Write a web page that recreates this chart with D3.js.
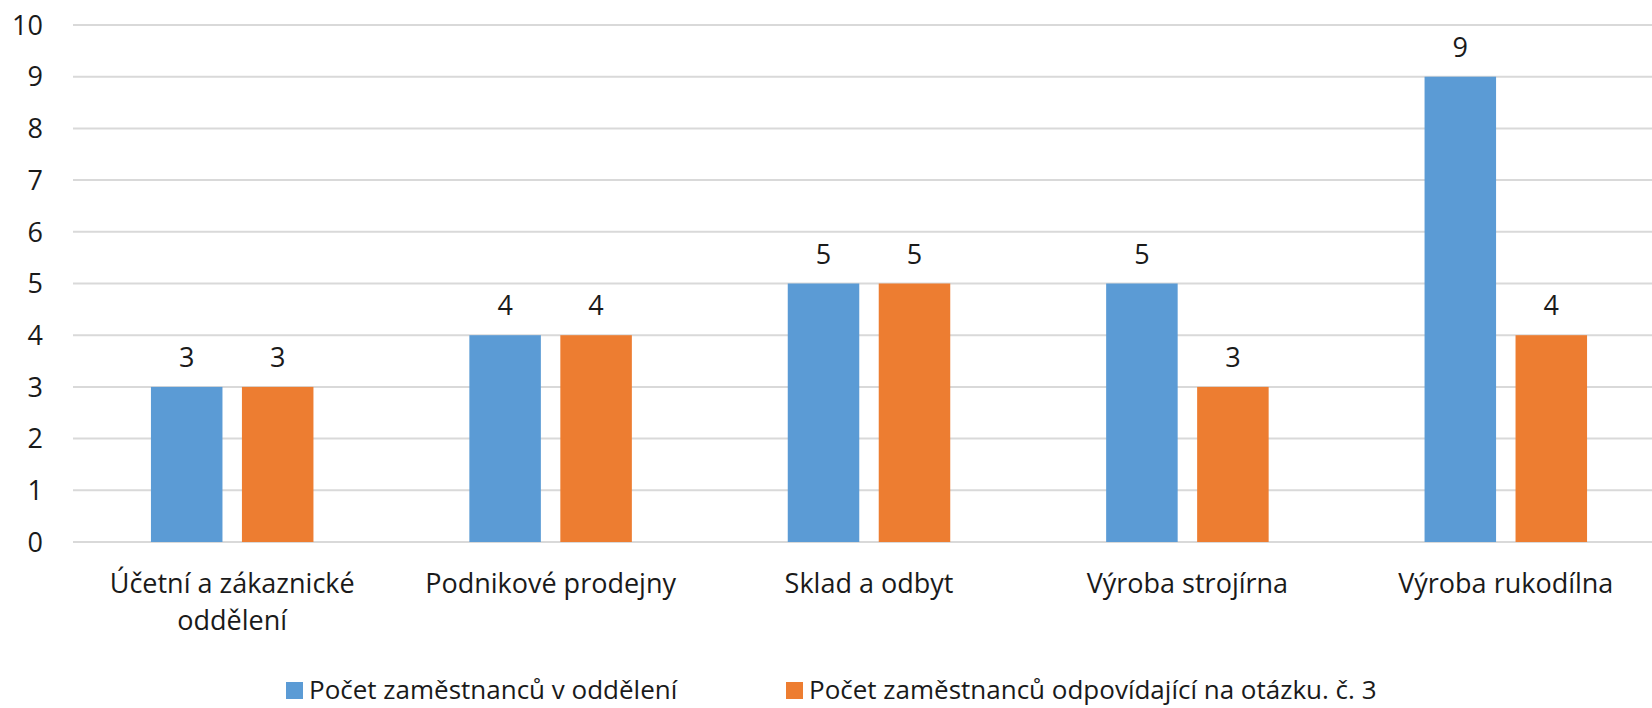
<!DOCTYPE html>
<html>
<head>
<meta charset="utf-8">
<script src="https://cdn.jsdelivr.net/npm/d3@7"></script>
<style>
	body { margin: 0; background: #fff; }
	svg { display: block; font-family: "Open Sans", sans-serif; }
</style>
</head>
<body>
<svg id="chart"></svg>
<script>
// chart data
var categories = [["Účetní a zákaznické", "oddělení"], ["Podnikové prodejny"], ["Sklad a odbyt"], ["Výroba strojírna"], ["Výroba rukodílna"]];
var seriesNames = ["Počet zaměstnanců v oddělení", "Počet zaměstnanců odpovídající na otázku. č. 3"];
var departmentCounts = [3, 4, 5, 5, 9];
var answerCounts = [3, 4, 5, 3, 4];
var yTicks = [0, 1, 2, 3, 4, 5, 6, 7, 8, 9, 10];

var width = 1652, height = 708;
var colors = ["#5B9BD5", "#ED7D31"];
var fontSize = 27;
// plot area runs a little past the right edge, the original is cropped there
var margin = {top: 25, left: 73, right: -13, bottom: 166};

var svg = d3.select("#chart").attr("width", width).attr("height", height);

var x = d3.scaleBand()
	.domain(d3.range(categories.length))
	.range([margin.left, width - margin.right]);

// position of the two bars inside a category, relative to its centre
var inner = d3.scaleBand()
	.domain([0, 1])
	.range([-81.25, 81.25])
	.paddingInner(0.214);

var y = d3.scaleLinear()
	.domain([0, 10])
	.range([height - margin.bottom, margin.top]);

// gridlines
svg.append("g").attr("class", "grid")
	.selectAll("line")
	.data(yTicks)
	.enter().append("line")
	.attr("x1", margin.left)
	.attr("x2", width)
	.attr("y1", function(d) { return y(d); })
	.attr("y2", function(d) { return y(d); })
	.attr("stroke", "#D9D9D9")
	.attr("stroke-width", 2);

// y labels
svg.append("g").attr("class", "ylabels")
	.selectAll("text")
	.data(yTicks)
	.enter().append("text")
	.attr("x", 43)
	.attr("y", function(d) { return y(d); })
	.attr("dy", "0.36em")
	.attr("text-anchor", "end")
	.attr("font-size", fontSize)
	.attr("fill", "#1a1a1a")
	.text(function(d) { return d; });

var series = [departmentCounts, answerCounts];

series.forEach(function(values, s) {
	var g = svg.append("g").attr("class", "series-" + s);
	g.selectAll("rect")
		.data(values)
		.enter().append("rect")
		.attr("x", function(d, i) { return x(i) + x.bandwidth() / 2 + inner(s); })
		.attr("width", inner.bandwidth())
		.attr("y", function(d) { return y(d); })
		.attr("height", function(d) { return y(0) - y(d); })
		.attr("fill", colors[s]);
	// value labels above bars
	g.selectAll("text")
		.data(values)
		.enter().append("text")
		.attr("x", function(d, i) { return x(i) + x.bandwidth() / 2 + inner(s) + inner.bandwidth() / 2; })
		.attr("y", function(d) { return y(d) - 20; })
		.attr("text-anchor", "middle")
		.attr("font-size", fontSize)
		.attr("fill", "#1a1a1a")
		.text(function(d) { return d; });
});

// category labels, may wrap onto two lines
var cat = svg.append("g").attr("class", "xlabels")
	.selectAll("text")
	.data(categories)
	.enter().append("text")
	.attr("text-anchor", "middle")
	.attr("font-size", fontSize)
	.attr("fill", "#1a1a1a");
cat.selectAll("tspan")
	.data(function(d, i) { return d.map(function(line) { return {line: line, i: i}; }); })
	.enter().append("tspan")
	.attr("x", function(d) { return x(d.i) + x.bandwidth() / 2; })
	.attr("y", function(d, j) { return 593 + j * 37; })
	.text(function(d) { return d.line; });

// legend (sits right on the bottom edge, like the original)
var legendX = [286, 786];
var legend = svg.append("g").attr("class", "legend")
	.selectAll("g")
	.data(seriesNames)
	.enter().append("g")
	.attr("transform", function(d, i) { return "translate(" + legendX[i] + ",682)"; });
legend.append("rect")
	.attr("width", 17)
	.attr("height", 17)
	.attr("fill", function(d, i) { return colors[i]; });
legend.append("text")
	.attr("x", 23)
	.attr("y", 17)
	.attr("font-size", 26)
	.attr("fill", "#1a1a1a")
	.text(function(d) { return d; });
</script>
</body>
</html>
